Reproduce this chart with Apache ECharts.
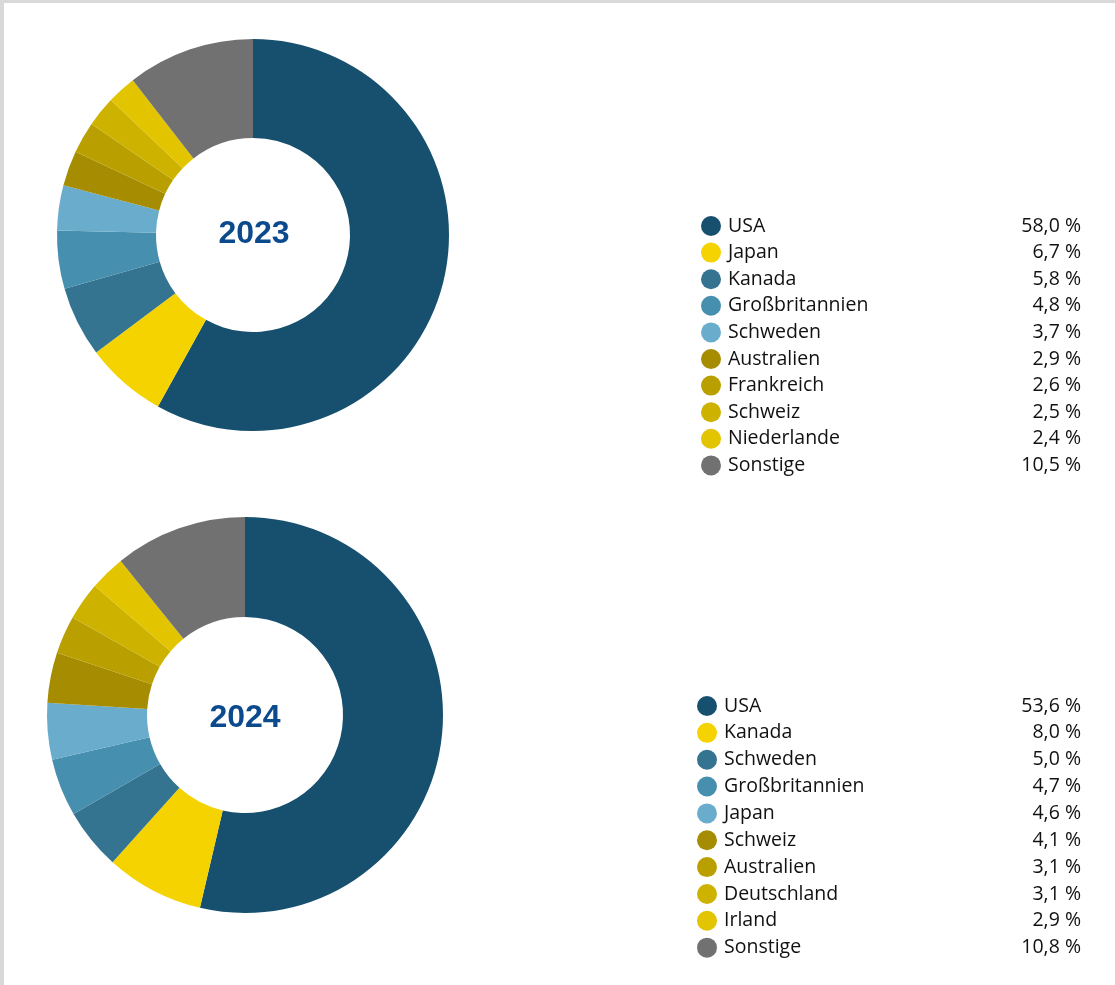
<!DOCTYPE html>
<html><head><meta charset="utf-8">
<script src="https://cdn.jsdelivr.net/npm/echarts@6/dist/echarts.min.js"></script>
<style>html,body{margin:0;padding:0;background:#fff;}#c{width:1115px;height:985px;}</style>
</head><body><div id="c"></div>
<script>
const names2023 = ['USA','Japan','Kanada','Großbritannien','Schweden','Australien','Frankreich','Schweiz','Niederlande','Sonstige'];
const values2023 = [58.0,6.7,5.8,4.8,3.7,2.9,2.6,2.5,2.4,10.5];
const names2024 = ['USA','Kanada','Schweden','Großbritannien','Japan','Schweiz','Australien','Deutschland','Irland','Sonstige'];
const values2024 = [53.6,8.0,5.0,4.7,4.6,4.1,3.1,3.1,2.9,10.8];
const sliceColors = ['#17506e','#f5d300','#357490','#468fae','#6aaccb','#a58c00','#b9a000','#cdb300','#e2c400','#717171'];
const years = ['2023','2024'];

const FONT = 'Open Sans';
const FS = 19.5;
function fmt(v){ return v.toFixed(1).replace('.', ',') + ' %'; }
function mkData(names, vals){ return names.map((n,i)=>({name:n, value:vals[i], itemStyle:{color:sliceColors[i]}})); }
function mkLegend(names, vals, left, top, gap, nameW){
  const map = {}; names.forEach((n,i)=>map[n]=vals[i]);
  return {
    data: names.map((n,i)=>({name:n, itemStyle:{color:sliceColors[i]}})),
    orient:'vertical', left:left, top:top, padding:0,
    icon:'circle', itemWidth:20, itemHeight:20, itemGap:gap, selectedMode:false,
    textStyle:{fontFamily:FONT, fontSize:FS, color:'#111',
      rich:{n:{width:nameW, padding:[0,0,0,2], fontFamily:FONT, fontSize:FS, color:'#111', lineHeight:20},
            v:{width:100, align:'right', fontFamily:FONT, fontSize:FS, color:'#111', lineHeight:20}}},
    formatter: name => '{n|'+name+'}{v|'+fmt(map[name])+'}'
  };
}
const chart = echarts.init(document.getElementById('c'));
chart.setOption({
  animation:false,
  legend:[mkLegend(names2023, values2023, 701, 216, 6.6, 253), mkLegend(names2024, values2024, 697, 696, 6.85, 257)],
  series:[
    {type:'pie', center:[253,235], radius:[97,196], startAngle:90, label:{show:false}, labelLine:{show:false},
     emphasis:{disabled:true}, data:mkData(names2023, values2023)},
    {type:'pie', center:[245,715], radius:[98,198], startAngle:90, label:{show:false}, labelLine:{show:false},
     emphasis:{disabled:true}, data:mkData(names2024, values2024)}
  ],
  graphic:[
    {type:'rect', shape:{x:0,y:0,width:4,height:985}, style:{fill:'#d9d9d9'}},
    {type:'rect', shape:{x:0,y:0,width:1115,height:3}, style:{fill:'#d9d9d9'}},
    {type:'text', x:254, y:234, style:{text:years[0], align:'center', verticalAlign:'middle', fontFamily:'Liberation Sans', fontWeight:'bold', fontSize:32, fill:'#0b4a8c'}},
    {type:'text', x:245, y:718, style:{text:years[1], align:'center', verticalAlign:'middle', fontFamily:'Liberation Sans', fontWeight:'bold', fontSize:32, fill:'#0b4a8c'}}
  ]
});
</script></body></html>
